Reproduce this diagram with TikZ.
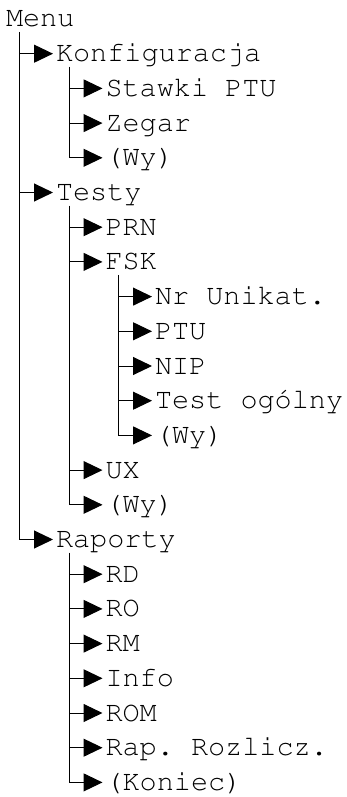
\documentclass[tikz,border=0pt]{standalone}
\usepackage[T1]{fontenc}
\usepackage{courier}
\usetikzlibrary{arrows.meta,calc}
\newcommand{\myfont}{\fontfamily{pcr}\fontseries{m}\fontshape{n}\fontsize{28.5}{34}\selectfont\frenchspacing}
\newcommand{\rowy}[1]{{-(19+34.7*#1)}}
\tikzset{
  item/.style={anchor=west, inner sep=0pt, inner xsep=3pt, outer sep=0pt,
    text height=16pt, text depth=0pt, font=\myfont},
  arr/.style={-{Triangle[length=19pt,width=18pt]}, line width=1pt}
}
\begin{document}
\begin{tikzpicture}[x=1pt,y=1pt]
\useasboundingbox (0,0) rectangle (346,-797);
\node[item] (menu)   at (3,\rowy{0})      {Menu};
\node[item] (konf)   at (53,\rowy{1})     {Konfiguracja};
\node[item] (stawki) at (102.5,\rowy{2})  {Stawki PTU};
\node[item] (zegar)  at (102.5,\rowy{3})  {Zegar};
\node[item] (wy1)    at (102.5,\rowy{4})  {(Wy)};
\node[item] (testy)  at (53,\rowy{5})     {Testy};
\node[item] (prn)    at (102.5,\rowy{6})  {PRN};
\node[item] (fsk)    at (102.5,\rowy{7})  {FSK};
\node[item] (nr)     at (152,\rowy{8})    {Nr Unikat.};
\node[item] (ptu)    at (152,\rowy{9})    {PTU};
\node[item] (nip)    at (152,\rowy{10})   {NIP};
\node[item] (tog)    at (152,\rowy{11})   {Test og\'olny};
\node[item] (wy2)    at (152,\rowy{12})   {(Wy)};
\node[item] (ux)     at (102.5,\rowy{13}) {UX};
\node[item] (wy3)    at (102.5,\rowy{14}) {(Wy)};
\node[item] (rap)    at (53,\rowy{15})    {Raporty};
\node[item] (rd)     at (102.5,\rowy{16}) {RD};
\node[item] (ro)     at (102.5,\rowy{17}) {RO};
\node[item] (rm)     at (102.5,\rowy{18}) {RM};
\node[item] (info)   at (102.5,\rowy{19}) {Info};
\node[item] (rom)    at (102.5,\rowy{20}) {ROM};
\node[item] (rrozl)  at (102.5,\rowy{21}) {Rap. Rozlicz.};
\node[item] (kon)    at (102.5,\rowy{22}) {(Koniec)};
% trunk start points
\coordinate (menuL) at ($(menu.west)+(16,-13)$);
\coordinate (konfL) at ($(konf.west)+(16,-13)$);
\coordinate (testyL) at ($(testy.west)+(16,-13)$);
\coordinate (fskL) at ($(fsk.west)+(16,-13)$);
\coordinate (rapL) at ($(rap.west)+(16,-13)$);
% Menu
\draw[arr] (menuL |- konf.west) -- (konf.west);
\draw[arr] (menuL |- testy.west) -- (testy.west);
\draw[arr] (menuL) |- (rap.west);
% Konfiguracja
\draw[arr] (konfL |- stawki.west) -- (stawki.west);
\draw[arr] (konfL |- zegar.west) -- (zegar.west);
\draw[arr] (konfL) |- (wy1.west);
% Testy
\draw[arr] (testyL |- prn.west) -- (prn.west);
\draw[arr] (testyL |- fsk.west) -- (fsk.west);
\draw[arr] (testyL |- ux.west) -- (ux.west);
\draw[arr] (testyL) |- (wy3.west);
% FSK
\draw[arr] (fskL |- nr.west) -- (nr.west);
\draw[arr] (fskL |- ptu.west) -- (ptu.west);
\draw[arr] (fskL |- nip.west) -- (nip.west);
\draw[arr] (fskL |- tog.west) -- (tog.west);
\draw[arr] (fskL) |- (wy2.west);
% Raporty
\draw[arr] (rapL |- rd.west) -- (rd.west);
\draw[arr] (rapL |- ro.west) -- (ro.west);
\draw[arr] (rapL |- rm.west) -- (rm.west);
\draw[arr] (rapL |- info.west) -- (info.west);
\draw[arr] (rapL |- rom.west) -- (rom.west);
\draw[arr] (rapL |- rrozl.west) -- (rrozl.west);
\draw[arr] (rapL) |- (kon.west);
\end{tikzpicture}
\end{document}
